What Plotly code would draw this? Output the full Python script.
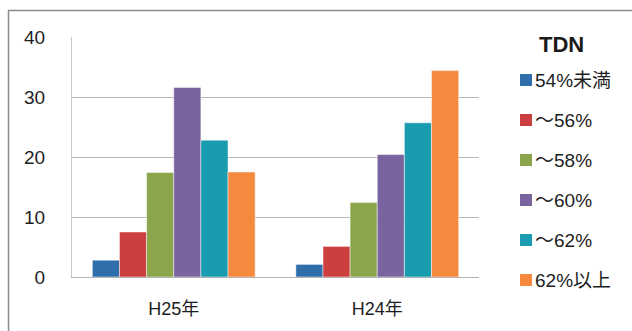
import plotly.graph_objects as go

# TDN distribution by year
years = ["H25年", "H24年"]
series_names = ["54%未満", "～56%", "～58%", "～60%", "～62%", "62%以上"]
values = [
    [2.8, 2.1],    # 54%未満
    [7.5, 5.1],    # ～56%
    [17.4, 12.4],  # ～58%
    [31.6, 20.4],  # ～60%
    [22.8, 25.7],  # ～62%
    [17.5, 34.4],  # 62%以上
]
colors = ["#2f6eaa", "#cc3f3f", "#8aa54a", "#7a649f", "#1a9bb0", "#f58a3f"]
y_ticks = [0, 10, 20, 30, 40]

FONT = "Liberation Sans, Arial, Noto Sans CJK JP, sans-serif"
W, H = 632, 331
L, R, T, B = 72, 153, 37, 54
plot_w = W - L - R
plot_h = H - T - B


def px_x(x):
    return (x - L) / plot_w


def px_y(y):
    return (H - B - y) / plot_h


fig = go.Figure()
for name, vals, col in zip(series_names, values, colors):
    fig.add_trace(go.Bar(
        x=years, y=vals, name=name, showlegend=False,
        marker=dict(color=col, line=dict(color="rgba(255,255,255,0.6)", width=0.8)),
    ))

shapes = [
    # outer frame: top and left edges
    dict(type="line", xref="paper", yref="paper", x0=px_x(8), x1=px_x(640),
         y0=px_y(10.5), y1=px_y(10.5), line=dict(color="#8c8c8c", width=1.5)),
    dict(type="line", xref="paper", yref="paper", x0=px_x(8.5), x1=px_x(8.5),
         y0=px_y(10.5), y1=px_y(340), line=dict(color="#8c8c8c", width=1.5)),
]
annotations = [
    dict(text="<b>TDN</b>", xref="paper", yref="paper", x=px_x(561), y=px_y(44),
         xanchor="center", yanchor="middle", showarrow=False,
         font=dict(family=FONT, size=22, color="#1a1a1a")),
]

# legend entries: colour square + label
for i, (name, col) in enumerate(zip(series_names, colors)):
    cy = 80 + 40 * i
    shapes.append(dict(type="rect", xref="paper", yref="paper",
                       x0=px_x(520), x1=px_x(532), y0=px_y(cy + 6), y1=px_y(cy - 6),
                       fillcolor=col, line=dict(width=0)))
    annotations.append(dict(text=name, xref="paper", yref="paper",
                            x=px_x(533), y=px_y(cy), xanchor="left", yanchor="middle",
                            showarrow=False,
                            font=dict(family=FONT, size=19, color="#1e1e1e")))

fig.update_layout(
    width=W, height=H,
    margin=dict(l=L, r=R, t=T, b=B),
    paper_bgcolor="white", plot_bgcolor="white",
    barmode="group", bargap=0.2, bargroupgap=0,
    font=dict(family=FONT, size=18, color="#1e1e1e"),
    shapes=shapes, annotations=annotations,
    xaxis=dict(showgrid=False, showline=True, linecolor="#b4b4b4", linewidth=1,
               ticks="", ticklabelstandoff=15, tickfont=dict(size=18)),
    yaxis=dict(range=[0, 40], tickvals=y_ticks, showgrid=True, gridcolor="#b8b8b8",
               gridwidth=1, showline=True, linecolor="#c8c8c8", linewidth=1,
               zeroline=False, ticks="", ticklabelstandoff=22, tickfont=dict(size=19)),
)

fig.write_html("out.html")
